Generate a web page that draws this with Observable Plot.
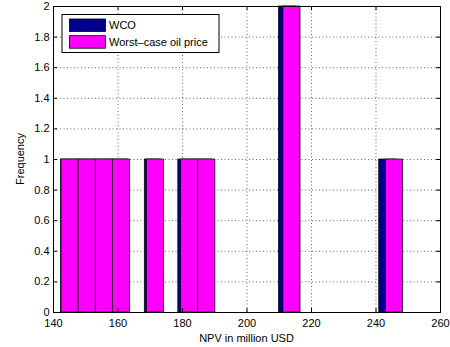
<!DOCTYPE html>
<html>
<head>
<meta charset="utf-8">
<script src="https://cdn.jsdelivr.net/npm/d3@7"></script>
<script src="https://cdn.jsdelivr.net/npm/@observablehq/plot@0.6"></script>
<style>
  html, body { margin: 0; padding: 0; background: #fff; }
  #chart svg { display: block; }
</style>
</head>
<body>
<div id="chart"></div>
<script>
// ---- data ----
const xTicks = [140, 160, 180, 200, 220, 240, 260];
const yTicks = [0, 0.2, 0.4, 0.6, 0.8, 1, 1.2, 1.4, 1.6, 1.8, 2];

// WCO histogram bins (left edge, right edge, count)
const wcoLeft  = [142.35, 147.5, 152.7, 157.9, 168.3, 178.7, 183.9, 209.9, 241.0];
const wcoRight = [147.5, 152.7, 157.9, 163.1, 173.5, 183.9, 189.1, 215.1, 246.2];
const wcoCount = [1, 1, 1, 1, 1, 1, 1, 2, 1];

// Worst-case oil price histogram bins
const worstLeft  = [142.5, 147.8, 153.1, 158.4, 169.0, 179.6, 184.9, 211.3, 243.1];
const worstRight = [147.8, 153.1, 158.4, 163.7, 174.3, 184.9, 190.2, 216.6, 248.4];
const worstCount = [1, 1, 1, 1, 1, 1, 1, 2, 1];

const seriesNames = ["WCO", "Worst\u2013case oil price"];
const seriesColors = ["#00008f", "#ff00ff"];

const wco = wcoLeft.map((l, i) => ({x1: l, x2: wcoRight[i], n: wcoCount[i]}));
const worst = worstLeft.map((l, i) => ({x1: l, x2: worstRight[i], n: worstCount[i]}));

const W = 450, H = 347;
const mL = 53, mR = 10, mT = 6, mB = 35;
const FONT = "'Liberation Sans', Arial, Helvetica, sans-serif";

const tickLenX = 4 * 120 / (W - mL - mR);
const tickLenY = 4 * 2 / (H - mT - mB);

const chart = Plot.plot({
  width: W,
  height: H,
  marginLeft: mL,
  marginRight: mR,
  marginTop: mT,
  marginBottom: mB,
  style: {fontFamily: FONT, fontSize: "11px", color: "#000", background: "#fff"},
  x: {domain: [140, 260]},
  y: {domain: [0, 2]},
  marks: [
    Plot.gridX(xTicks, {stroke: "#000", strokeOpacity: 0.6, strokeDasharray: "1,2.5"}),
    Plot.gridY(yTicks, {stroke: "#000", strokeOpacity: 0.6, strokeDasharray: "1,2.5"}),
    Plot.rect(wco, {x1: "x1", x2: "x2", y1: 0, y2: "n", fill: seriesColors[0], stroke: "#000", strokeWidth: 0.7, inset: 0}),
    Plot.rect(worst, {x1: "x1", x2: "x2", y1: 0, y2: "n", fill: seriesColors[1], stroke: "#000", strokeWidth: 0.7, inset: 0}),
    // inward ticks on all four sides
    Plot.ruleX(xTicks, {y1: 0, y2: tickLenY, stroke: "#000"}),
    Plot.ruleX(xTicks, {y1: 2, y2: 2 - tickLenY, stroke: "#000"}),
    Plot.ruleY(yTicks, {x1: 140, x2: 140 + tickLenX, stroke: "#000"}),
    Plot.ruleY(yTicks, {x1: 260, x2: 260 - tickLenX, stroke: "#000"}),
    Plot.frame({stroke: "#000", strokeWidth: 1}),
    Plot.axisX(xTicks, {tickSize: 0, tickPadding: 7, label: null, fontSize: 11}),
    Plot.axisY(yTicks, {tickSize: 0, tickPadding: 4, label: null, fontSize: 11, tickFormat: d3.format("~g")})
  ]
});

document.getElementById("chart").appendChild(chart);

const svg = d3.select(chart);

// axis labels
svg.append("text")
  .attr("x", (mL + W - mR) / 2)
  .attr("y", 341.5)
  .attr("text-anchor", "middle")
  .attr("font-family", FONT)
  .attr("font-size", 11)
  .attr("fill", "#000")
  .text("NPV in million USD");

svg.append("text")
  .attr("transform", `translate(23.5,${(mT + H - mB) / 2}) rotate(-90)`)
  .attr("text-anchor", "middle")
  .attr("font-family", FONT)
  .attr("font-size", 11)
  .attr("fill", "#000")
  .text("Frequency");

// legend box (inside the axes, top-left)
const lg = svg.append("g").attr("transform", "translate(62,14.5)");
lg.append("rect")
  .attr("width", 157).attr("height", 38)
  .attr("fill", "#fff").attr("stroke", "#000").attr("stroke-width", 1);
seriesNames.forEach((name, i) => {
  lg.append("rect")
    .attr("x", 7.5).attr("y", 4.5 + i * 16.7)
    .attr("width", 36).attr("height", 12.5)
    .attr("fill", seriesColors[i]).attr("stroke", "#000").attr("stroke-width", 0.8);
  lg.append("text")
    .attr("x", 47).attr("y", 14.8 + i * 16.7)
    .attr("text-anchor", "start")
    .attr("font-family", FONT).attr("font-size", 11).attr("fill", "#000")
    .text(name);
});
</script>
</body>
</html>
